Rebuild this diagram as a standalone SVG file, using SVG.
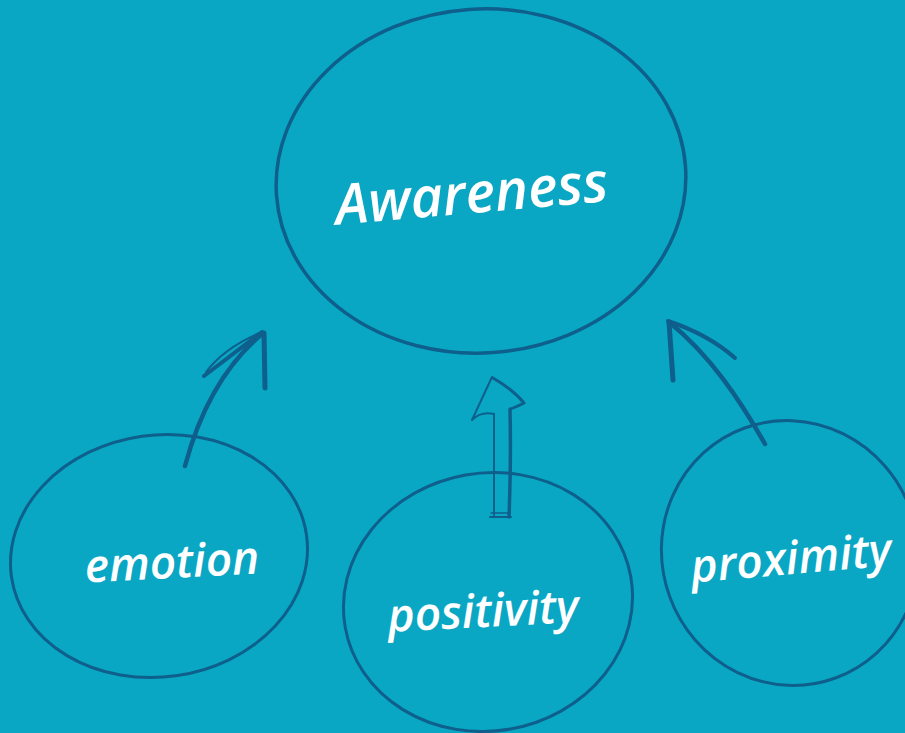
<svg xmlns="http://www.w3.org/2000/svg" width="905" height="733" viewBox="0 0 905 733">
  <style>
    .ring { fill: none; stroke: #0E5F8C; stroke-linecap: round; }
    .ink { fill: none; stroke: #0E5F8C; stroke-linecap: round; stroke-linejoin: round; }
    .label { fill: #FFFFFF; font-family: "Open Sans", "Noto Sans", "DejaVu Sans", sans-serif; font-weight: 600; font-style: italic; }
  </style>
  <rect width="905" height="733" fill="#0AA7C5"/>

  <g id="awareness">
    <ellipse class="ring" cx="481" cy="181" rx="205" ry="172" stroke-width="3.5" transform="rotate(-4 481 181)"/>
    <text class="label" x="472" y="213" font-size="56" text-anchor="middle" transform="rotate(-5 472 200)">Awareness</text>
  </g>

  <g id="emotion">
    <ellipse class="ring" cx="159" cy="556" rx="149" ry="121" stroke-width="3" transform="rotate(-8 159 556)"/>
    <text class="label" x="172" y="578" font-size="46" text-anchor="middle" transform="rotate(-3 172 565)">emotion</text>
  </g>

  <g id="positivity">
    <ellipse class="ring" cx="488" cy="602" rx="145" ry="129" stroke-width="3" transform="rotate(-10 488 602)"/>
    <text class="label" x="483" y="627" font-size="46" text-anchor="middle" transform="rotate(-3 483 610)">positivity</text>
  </g>

  <g id="proximity">
    <ellipse class="ring" cx="790" cy="553" rx="128" ry="133" stroke-width="3" transform="rotate(-20 790 553)"/>
    <text class="label" x="791" y="574" font-size="46" text-anchor="middle" transform="rotate(-5 791 560)">proximity</text>
  </g>

  <g id="connectors">
    <!-- emotion to awareness -->
    <path class="ink" d="M185 466 C200 410 225 365 262 334" stroke-width="4.5"/>
    <path class="ink" d="M262 332 L204 376" stroke-width="4"/>
    <path class="ink" d="M262 332 C230 345 215 360 206 372" stroke-width="2"/>
    <path class="ink" d="M264 333 L265 388" stroke-width="5"/>
    <!-- positivity to awareness -->
    <path class="ink" d="M494 516 L494 414" stroke-width="2"/>
    <path class="ink" d="M494 414 C485 412 478 414 472 420 L492 377" stroke-width="2"/>
    <path class="ink" d="M493 378 C505 385 516 393 524 403 C518 406 514 408 510 409" stroke-width="3"/>
    <path class="ink" d="M510 410 C511 450 510 490 509 517" stroke-width="3.5"/>
    <path class="ink" d="M490 517 L511 517" stroke-width="2"/>
    <path class="ink" d="M491 513 L510 513" stroke-width="1.5"/>
    <!-- proximity to awareness -->
    <path class="ink" d="M765 444 C740 400 710 355 669 322" stroke-width="4.5"/>
    <path class="ink" d="M668 321 C695 330 718 343 735 358" stroke-width="4"/>
    <path class="ink" d="M669 322 L673 380" stroke-width="5"/>
  </g>
</svg>
